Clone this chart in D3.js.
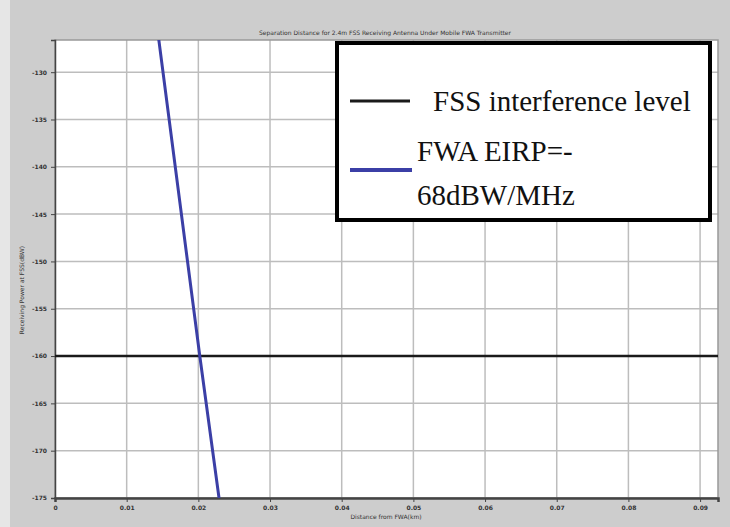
<!DOCTYPE html>
<html>
<head>
<meta charset="utf-8">
<script src="https://cdn.jsdelivr.net/npm/d3@7"></script>
<style>
body { margin: 0; background: #fff; }
svg { display: block; }
.grid line { stroke: #bdbdbd; stroke-width: 1.5; }
.axis path, .axis line { stroke: #444; }
.axis text { font-family: "DejaVu Sans", sans-serif; font-size: 6px; font-weight: bold; fill: #333; }
</style>
</head>
<body>
<svg width="730" height="527"></svg>
<script>
window.onload = function () {
var svg = d3.select('svg');

// data
var xTicks = [0, 0.01, 0.02, 0.03, 0.04, 0.05, 0.06, 0.07, 0.08, 0.09];
var xTickLabels = ['0', '0.01', '0.02', '0.03', '0.04', '0.05', '0.06', '0.07', '0.08', '0.09'];
var yTicks = [-175, -170, -165, -160, -155, -150, -145, -140, -135, -130];
var yTickLabels = ['-175', '-170', '-165', '-160', '-155', '-150', '-145', '-140', '-135', '-130'];
var interferenceLevel = [-160];
var fwaDistance = [0.0137, 0.0202, 0.0236];
var fwaPower = [-122, -160, -179];
var legendLabels = ['FSS interference level', 'FWA EIRP=-', '68dBW/MHz'];

var margin = { left: 55, right: 12, top: 40, bottom: 29 };
var width = 730 - margin.left - margin.right;
var height = 527 - margin.top - margin.bottom;

// figure background
svg.append('rect')
  .attr('x', 0).attr('y', 0).attr('width', 730).attr('height', 527)
  .attr('fill', '#cdcdcd');
svg.append('rect')
  .attr('x', 0).attr('y', 0).attr('width', 10).attr('height', 527)
  .attr('fill', '#e6e6e6');

var x = d3.scaleLinear().domain([0, 0.0925]).range([0, width]);
var y = d3.scaleLinear().domain([-175, -126.6]).range([height, 0]);

var g = svg.append('g').attr('transform', 'translate(' + margin.left + ',' + margin.top + ')');

g.append('rect')
  .attr('width', width).attr('height', height)
  .attr('fill', '#fff');

// grid
g.append('g').attr('class', 'grid')
  .selectAll('line.v').data(xTicks.slice(1)).enter().append('line')
  .attr('x1', function (d) { return x(d); })
  .attr('x2', function (d) { return x(d); })
  .attr('y1', 0).attr('y2', height);
g.append('g').attr('class', 'grid')
  .selectAll('line.h').data(yTicks.slice(1)).enter().append('line')
  .attr('x1', 0).attr('x2', width)
  .attr('y1', function (d) { return y(d); })
  .attr('y2', function (d) { return y(d); });

g.append('rect')
  .attr('width', width).attr('height', height)
  .attr('fill', 'none').attr('stroke', '#999').attr('stroke-width', 1.5);

// axes
var xAxis = d3.axisBottom(x).tickValues(xTicks)
  .tickFormat(function (d, i) { return xTickLabels[i]; })
  .tickSize(4).tickPadding(4);
g.append('g').attr('class', 'axis')
  .attr('transform', 'translate(0,' + height + ')')
  .call(xAxis)
  .select('.domain').attr('stroke', '#666').attr('stroke-width', 2.5);

var yAxis = d3.axisLeft(y).tickValues(yTicks)
  .tickFormat(function (d, i) { return yTickLabels[i]; })
  .tickSize(4).tickPadding(4);
g.append('g').attr('class', 'axis')
  .call(yAxis)
  .select('.domain').attr('stroke', '#777').attr('stroke-width', 1.5);

// clip for the data lines
g.append('clipPath').attr('id', 'plotClip')
  .append('rect').attr('width', width).attr('height', height);

var plot = g.append('g').attr('clip-path', 'url(#plotClip)');

plot.selectAll('line.level').data(interferenceLevel).enter().append('line')
  .attr('x1', 0).attr('x2', width)
  .attr('y1', function (d) { return y(d); })
  .attr('y2', function (d) { return y(d); })
  .attr('stroke', '#1a1a1a').attr('stroke-width', 2.5);

var fwaPoints = fwaDistance.map(function (d, i) { return [d, fwaPower[i]]; });
var line = d3.line()
  .x(function (d) { return x(d[0]); })
  .y(function (d) { return y(d[1]); });
plot.append('path')
  .datum(fwaPoints)
  .attr('d', line)
  .attr('fill', 'none')
  .attr('stroke', '#3b3fa6')
  .attr('stroke-width', 3);

// title and axis labels
svg.append('text')
  .attr('x', 385).attr('y', 35)
  .attr('text-anchor', 'middle')
  .attr('font-family', 'DejaVu Sans, sans-serif')
  .attr('font-size', 6).attr('fill', '#333')
  .text('Separation Distance for 2.4m FSS Receiving Antenna Under Mobile FWA Transmitter');

svg.append('text')
  .attr('x', 386).attr('y', 519)
  .attr('text-anchor', 'middle')
  .attr('font-family', 'DejaVu Sans, sans-serif')
  .attr('font-size', 6).attr('fill', '#333')
  .text('Distance from FWA(km)');

svg.append('text')
  .attr('transform', 'translate(24,290) rotate(-90)')
  .attr('text-anchor', 'middle')
  .attr('font-family', 'DejaVu Sans, sans-serif')
  .attr('font-size', 6).attr('fill', '#333')
  .text('Receiving Power at FSS(dBW)');

// legend
var legend = svg.append('g');
legend.append('rect')
  .attr('x', 337).attr('y', 43).attr('width', 373).attr('height', 177)
  .attr('fill', '#fff').attr('stroke', '#000').attr('stroke-width', 4);
legend.append('line')
  .attr('x1', 350).attr('x2', 410).attr('y1', 101).attr('y2', 101)
  .attr('stroke', '#1a1a1a').attr('stroke-width', 3);
legend.append('line')
  .attr('x1', 350).attr('x2', 412).attr('y1', 170).attr('y2', 170)
  .attr('stroke', '#3b3fa6').attr('stroke-width', 4);
var legendY = [111, 161, 205];
var legendX = [433, 417, 417];
legend.selectAll('text').data(legendLabels).enter().append('text')
  .attr('x', function (d, i) { return legendX[i]; })
  .attr('y', function (d, i) { return legendY[i]; })
  .attr('font-family', 'Liberation Serif, serif')
  .attr('font-size', 29).attr('fill', '#111')
  .text(function (d) { return d; });
};
</script>
</body>
</html>
